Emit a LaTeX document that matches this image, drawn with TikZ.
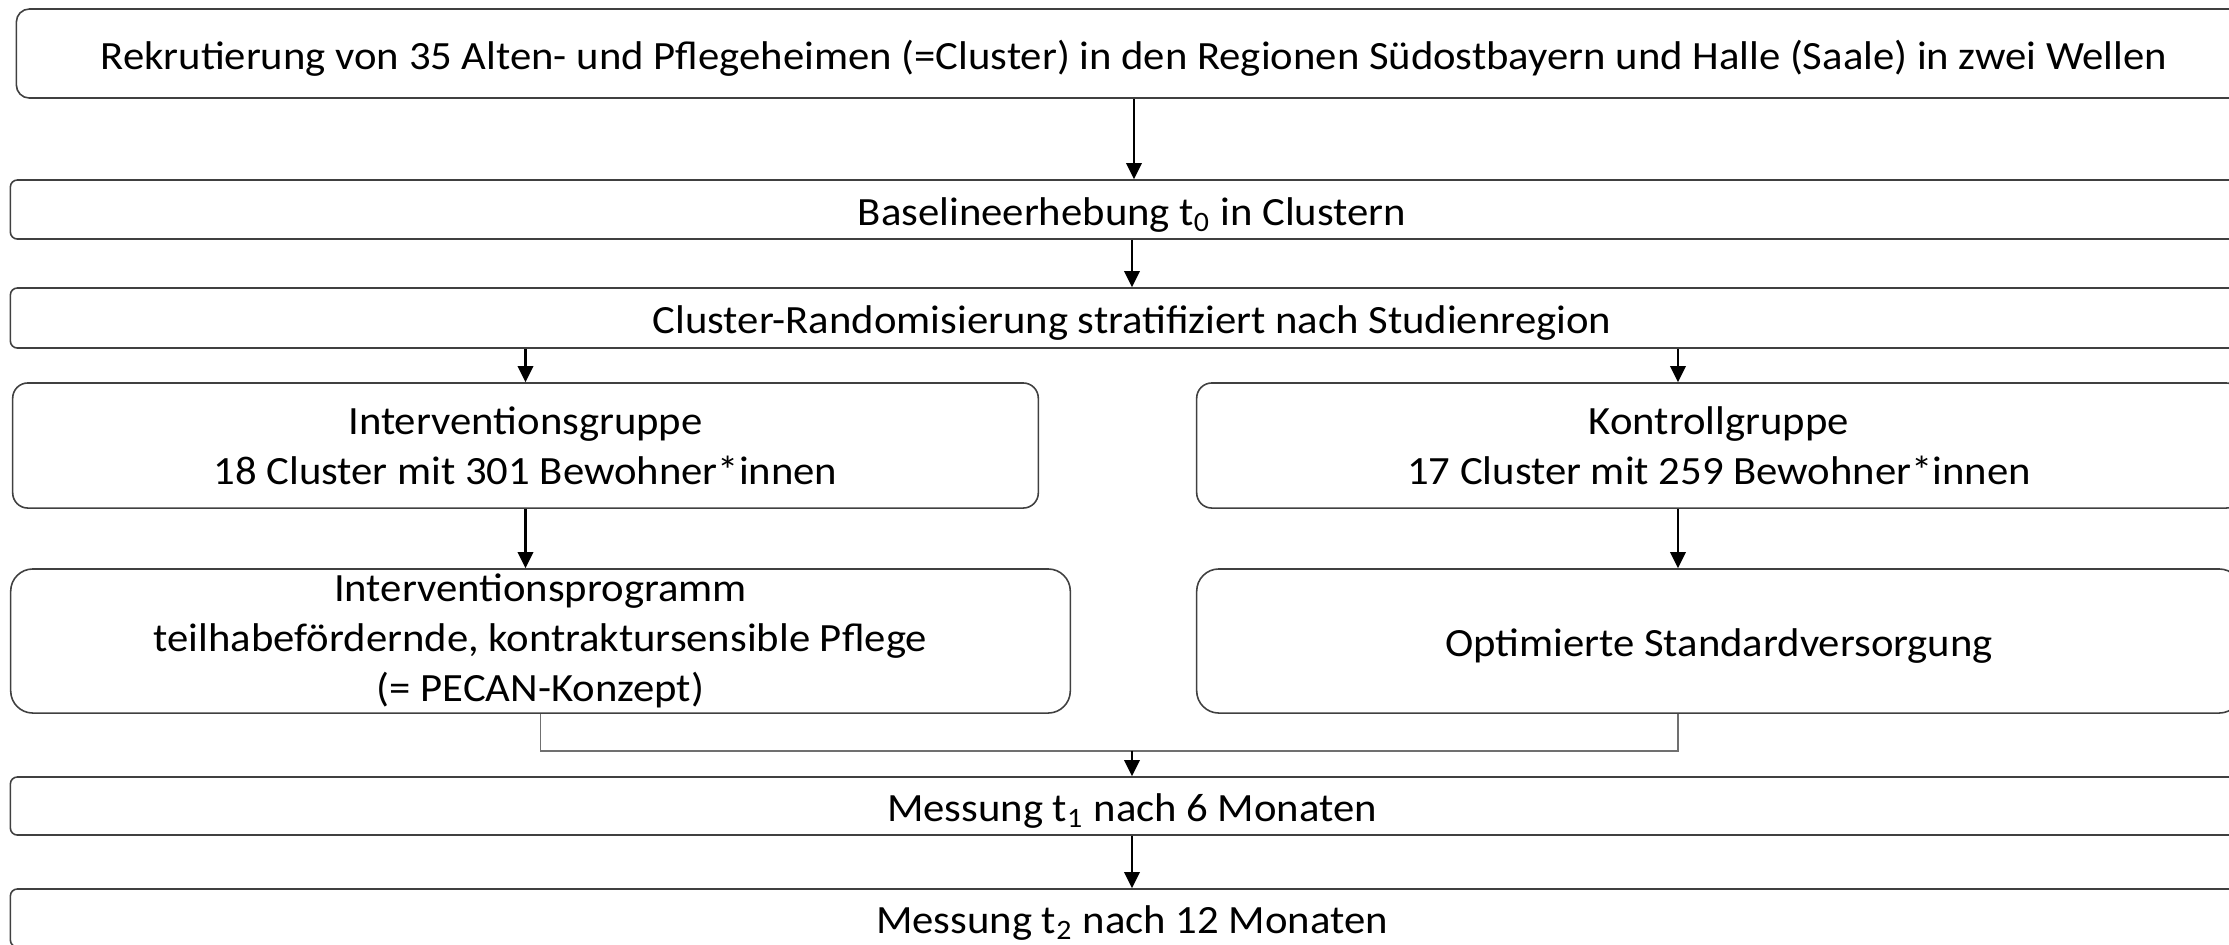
\documentclass[tikz,border=0pt]{standalone}
\usepackage{fontspec}
\setmainfont{Carlito}[FakeStretch=1.065]
\usepackage{xcolor}
\usepackage{tikz}
\usetikzlibrary{arrows.meta, positioning, calc}
\definecolor{pecanline}{HTML}{404040}
\definecolor{pecanlink}{HTML}{707070}
\tikzset{
  stagebox/.style={draw=pecanline, line width=0.45pt, align=center, inner xsep=0pt, inner ysep=0pt, font=\fontsize{11.4pt}{14.3pt}\selectfont},
  oneline/.style={text height=9.5pt, text depth=0.5pt},
  flowarrow/.style={draw=black, line width=0.6pt, -{Triangle[length=4.6pt, width=4.4pt]}},
  joinline/.style={draw=pecanlink, line width=0.45pt}
}

\begin{document}
\begin{tikzpicture}[x=0.01cm, y=-0.01cm]
    \useasboundingbox (0,0) rectangle (2229,944);
    \clip (0,0) rectangle (2229,944);

    % full-width stages
    \node[stagebox, oneline, rounded corners=3.7pt, minimum width=22.34cm, minimum height=0.89cm] (rekrut) at (1134,53.5) {Rekrutierung von 35 Alten- und Pflegeheimen (=Cluster) in den Regionen Südostbayern und Halle (Saale) in zwei Wellen};
    \node[stagebox, oneline, rounded corners=2pt, minimum width=22.42cm, minimum height=0.59cm] (baseline) at (1132,209.5) {Baselineerhebung t\textsubscript{0} in Clustern};
    \node[stagebox, oneline, rounded corners=2pt, minimum width=22.42cm, minimum height=0.60cm] (random) at (1132,318) {Cluster-Randomisierung stratifiziert nach Studienregion};

    % two arms
    \node[stagebox, rounded corners=4.3pt, minimum width=10.25cm, minimum height=1.25cm] (igruppe) at (525.5,445.5) {Interventionsgruppe\\18 Cluster mit 301 Bewohner*innen};
    \node[stagebox, rounded corners=4.3pt, minimum width=10.44cm, minimum height=1.25cm] (kgruppe) at (1719,445.5) {Kontrollgruppe\\17 Cluster mit 259 Bewohner*innen};
    \node[stagebox, rounded corners=6.3pt, minimum width=10.59cm, minimum height=1.44cm] (iprog) at (540.5,641) {Interventionsprogramm\\teilhabefördernde, kontraktursensible Pflege\\(= PECAN-Konzept)};
    \node[stagebox, oneline, rounded corners=6.3pt, minimum width=10.44cm, minimum height=1.44cm] (standard) at (1719,641) {Optimierte Standardversorgung};
    \coordinate (kgaxis) at (1678,445.5);

    % follow-up
    \node[stagebox, oneline, rounded corners=2pt, minimum width=22.42cm, minimum height=0.58cm] (messung1) at (1132,806) {Messung t\textsubscript{1} nach 6 Monaten};
    \node[stagebox, oneline, rounded corners=2pt, minimum width=22.42cm, minimum height=0.58cm] (messung2) at (1132,918) {Messung t\textsubscript{2} nach 12 Monaten};

    \draw[flowarrow] (rekrut.south) -- (rekrut.south |- baseline.north);
    \draw[flowarrow] (baseline.south) -- (random.north);
    \draw[flowarrow] (igruppe.north |- random.south) -- (igruppe.north);
    \draw[flowarrow] (kgaxis |- random.south) -- (kgaxis |- kgruppe.north);
    \draw[flowarrow] (igruppe.south) -- (igruppe.south |- iprog.north);
    \draw[flowarrow] (kgaxis |- kgruppe.south) -- (kgaxis |- standard.north);

    \coordinate (join) at ($(iprog.south)+(0,37)$);
    \draw[joinline] (iprog.south) -- (join) -| (kgaxis |- standard.south);
    \draw[flowarrow] (join -| messung1.north) -- (messung1.north);
    \draw[flowarrow] (messung1.south) -- (messung2.north);
\end{tikzpicture}
\end{document}
